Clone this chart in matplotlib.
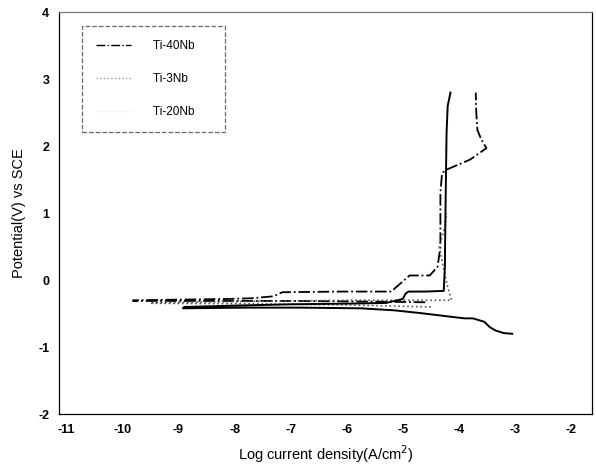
import matplotlib
matplotlib.use("Agg")
import matplotlib.pyplot as plt
from matplotlib.lines import Line2D

plt.rcParams["font.family"] = ["Liberation Sans", "DejaVu Sans"]
plt.rcParams["axes.unicode_minus"] = False

# Ti-40Nb : cathodic branch then anodic branch (log i, E)
ti40_x = [-4.6, -5.5, -7.0, -9.81, -9.81, -8.1, -7.7, -7.3, -7.15, -6.1, -5.2, -5.14,
          -4.88, -4.52, -4.38, -4.33, -4.33, -4.30, -4.22, -3.8, -3.51, -3.6, -3.67,
          -3.69, -3.70]
ti40_y = [-0.33, -0.32, -0.31, -0.31, -0.30, -0.28, -0.27, -0.24, -0.18, -0.17, -0.17,
          -0.12, 0.07, 0.07, 0.20, 0.50, 1.30, 1.60, 1.65, 1.80, 1.97, 2.10, 2.24,
          2.50, 2.80]

# Ti-3Nb
ti3_x = [-4.5, -6.0, -8.0, -9.5, -9.5, -8.0, -6.0, -5.0, -4.4, -4.13, -4.2, -4.28,
         -4.35, -4.25, -4.22]
ti3_y = [-0.40, -0.37, -0.35, -0.345, -0.335, -0.32, -0.30, -0.30, -0.30, -0.30,
         -0.10, 0.20, 0.50, 0.80, 1.00]

# Ti-20Nb
ti20_x = [-3.05, -3.2, -3.35, -3.45, -3.55, -3.75, -3.9, -4.1, -4.7, -5.15, -5.75,
          -6.8, -7.8, -8.92, -8.9, -8.0, -7.0, -6.0, -5.3, -5.0, -4.95, -4.9, -4.6,
          -4.27, -4.25, -4.24, -4.23, -4.22, -4.20, -4.15]
ti20_y = [-0.80, -0.79, -0.75, -0.70, -0.62, -0.57, -0.57, -0.55, -0.49, -0.45, -0.42,
          -0.41, -0.41, -0.42, -0.40, -0.38, -0.36, -0.35, -0.34, -0.28, -0.20, -0.17,
          -0.17, -0.16, 0.20, 1.00, 1.60, 2.20, 2.60, 2.80]

LABELS = ["Ti-40Nb", "Ti-3Nb", "Ti-20Nb"]

fig = plt.figure(figsize=(5.96, 4.68), dpi=100)
ax = fig.add_axes([0.099, 0.115, 0.894, 0.859])

ax.plot(ti40_x, ti40_y, color="black", lw=1.3, ls="-.")
ax.plot(ti3_x, ti3_y, color="#555555", lw=1.2, ls=":")
ax.plot(ti20_x, ti20_y, color="black", lw=1.4, ls="-")

ax.set_xlim(-11.13, -1.63)
ax.set_ylim(-2, 4)
ax.set_xticks(range(-11, -1))
ax.set_yticks(range(-2, 5))
ax.tick_params(length=0, labelsize=9, pad=7)
for lab in ax.get_xticklabels() + ax.get_yticklabels():
    lab.set_fontweight("bold")
for sp in ax.spines.values():
    sp.set_linewidth(0.9)
ax.spines["top"].set_color("#777777")

ax.set_xlabel("Log current density(A/cm$^2$)", fontsize=10.5, labelpad=5)
ax.set_ylabel("Potential(V) vs SCE", fontsize=10.5, labelpad=9)

handles = [
    Line2D([], [], color="black", lw=1.0, ls="-."),
    Line2D([], [], color="#999999", lw=1.0, ls=":"),
    Line2D([], [], color="#f4f4f4", lw=1.0, ls="-"),
]
leg = ax.legend(handles, [l + "     " for l in LABELS], loc="upper left",
                bbox_to_anchor=(0.043, 0.965),
                fontsize=8.5, frameon=True, fancybox=False, handlelength=3.0,
                handletextpad=1.8, labelspacing=1.75, borderpad=1.2,
                borderaxespad=0)
leg.get_frame().set_edgecolor("#444444")
leg.get_frame().set_linewidth(0.9)
leg.get_frame().set_linestyle("--")

fig.savefig("out.png", dpi=100)
